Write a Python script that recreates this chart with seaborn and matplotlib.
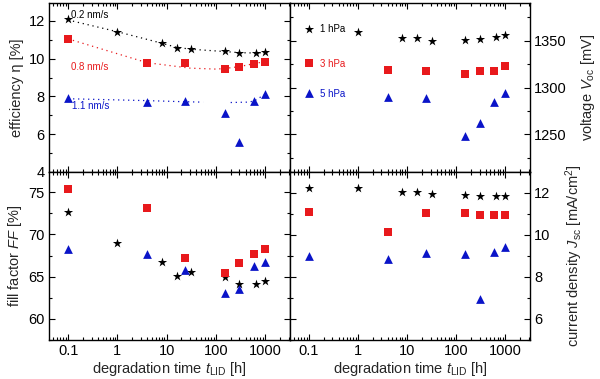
import numpy as np
import pandas as pd
import matplotlib
matplotlib.use("Agg")
import matplotlib.pyplot as plt
import seaborn as sns
from matplotlib.ticker import MultipleLocator, LogLocator, FixedLocator, NullFormatter

# ---------------- data ----------------
t_star = [0.1, 1, 8, 16, 32, 150, 300, 650, 1000]
t_sq = [0.1, 4, 24, 150, 300, 600, 1000]
t_tri = [0.1, 4, 24, 150, 300, 600, 1000]

eff_star = [12.1, 11.43, 10.82, 10.59, 10.52, 10.41, 10.29, 10.29, 10.34]
eff_sq = [11.05, 9.79, 9.79, 9.48, 9.56, 9.72, 9.83]
eff_tri = [7.92, 7.71, 7.77, 7.12, 5.61, 7.78, 8.14]

voc_star = [1362, 1359.6, 1353.2, 1353.2, 1350, 1350.7, 1351.8, 1354.3, 1355.7]
voc_sq = [1326, 1318.8, 1317.7, 1314.6, 1317.7, 1317.7, 1323]
voc_tri = [1294, 1290.4, 1288.3, 1248, 1262, 1285, 1294]

ff_star = [72.63, 68.99, 66.71, 65.12, 65.56, 64.93, 64.13, 64.1, 64.5]
ff_sq = [75.36, 73.18, 67.25, 65.47, 66.66, 67.73, 68.32]
ff_tri = [68.25, 67.69, 65.76, 63.03, 63.54, 66.27, 66.74]

jsc_star = [12.26, 12.26, 12.05, 12.05, 11.94, 11.89, 11.84, 11.86, 11.86]
jsc_sq = [11.09, 10.14, 11.05, 11.04, 10.96, 10.96, 10.96]
jsc_tri = [9.01, 8.84, 9.13, 9.08, 6.96, 9.18, 9.44]

# dotted guide lines
fit_black_t = [0.1, 1, 8, 16, 32, 150, 300, 650, 1000]
fit_black_y = [12.05, 11.43, 10.82, 10.6, 10.5, 10.38, 10.32, 10.3, 10.33]
fit_red_t = [0.1, 4, 30, 100, 150, 300, 600, 1000]
fit_red_y = [11.05, 9.79, 9.5, 9.45, 9.48, 9.58, 9.74, 9.85]
fit_blue1_t = [0.1, 4, 24, 55]
fit_blue1_y = [7.88, 7.78, 7.72, 7.7]
fit_blue2_t = [200, 450, 600, 1000]
fit_blue2_y = [7.68, 7.7, 7.76, 8.12]

rate_labels = ["0.2 nm/s", "0.8 nm/s", "1.1 nm/s"]
pressure_labels = ["1 hPa", "3 hPa", "5 hPa"]
xticks = [0.1, 1, 10, 100, 1000]
xticklabels = ["0.1", "1", "10", "100", "1000"]

BLACK = "#000000"
RED = "#e8191c"
BLUE = "#0a14c8"

sns.set_style("ticks")
plt.rcParams["font.family"] = ["Liberation Sans", "DejaVu Sans"]
plt.rcParams["mathtext.fontset"] = "custom"
plt.rcParams["mathtext.rm"] = "Liberation Sans"
plt.rcParams["mathtext.it"] = "Liberation Sans:italic"

fig = plt.figure(figsize=(6.0, 3.79), dpi=100)
W, H = 600, 379


def ax_at(x0, y0, x1, y1):
    return fig.add_axes([x0 / W, 1 - y1 / H, (x1 - x0) / W, (y1 - y0) / H])


ax_eff = ax_at(49, 3, 290, 172)
ax_voc = ax_at(290, 3, 530, 172)
ax_ff = ax_at(49, 172, 290, 340)
ax_jsc = ax_at(290, 172, 530, 340)

series = [
    ("*", BLACK, 7.0),
    ("s", RED, 5.3),
    ("^", BLUE, 6.3),
]


def draw(ax, ys):
    ts = [t_star, t_sq, t_tri]
    for (m, c, ms), t, y in zip(series, ts, ys):
        df = pd.DataFrame({"t": t, "v": y})
        sns.scatterplot(data=df, x="t", y="v", ax=ax, marker=m, color=c,
                        s=ms ** 2, linewidth=0, zorder=5, legend=False)


# dotted lines
for t, y, c in [(fit_black_t, fit_black_y, BLACK), (fit_red_t, fit_red_y, RED),
                (fit_blue1_t, fit_blue1_y, BLUE), (fit_blue2_t, fit_blue2_y, BLUE)]:
    df = pd.DataFrame({"t": t, "v": y})
    sns.lineplot(data=df, x="t", y="v", ax=ax_eff, color=c, linestyle=(0, (1, 3)),
                 linewidth=0.9, zorder=3, legend=False)

draw(ax_eff, [eff_star, eff_sq, eff_tri])
draw(ax_voc, [voc_star, voc_sq, voc_tri])
draw(ax_ff, [ff_star, ff_sq, ff_tri])
draw(ax_jsc, [jsc_star, jsc_sq, jsc_tri])

lims = {
    ax_eff: (4, 12.95, 2, 1),
    ax_voc: (1210, 1390, 50, 25),
    ax_ff: (57.5, 77.4, 5, 2.5),
    ax_jsc: (5.0, 13.0, 2, 1),
}
for ax, (lo, hi, maj, mnr) in lims.items():
    ax.set_xscale("log")
    ax.set_xlim(0.041, 3200)
    ax.set_ylim(lo, hi)
    ax.yaxis.set_major_locator(MultipleLocator(maj))
    ax.yaxis.set_minor_locator(MultipleLocator(mnr))
    ax.xaxis.set_major_locator(FixedLocator(xticks))
    ax.xaxis.set_minor_locator(LogLocator(base=10, subs=np.arange(2, 10), numticks=20))
    ax.tick_params(which="both", direction="in", top=True, bottom=True, left=True, right=True,
                   labelsize=10.5, colors="black", width=0.8, pad=3)
    ax.tick_params(which="major", length=4)
    ax.tick_params(which="minor", length=2)
    ax.set_xlabel("")
    ax.set_ylabel("")
    for s in ax.spines.values():
        s.set_linewidth(1.0)
        s.set_color("black")
    ax.set_facecolor("white")

for ax in (ax_eff, ax_voc):
    ax.tick_params(labelbottom=False)
for ax in (ax_ff, ax_jsc):
    ax.set_xticks(xticks)
    ax.set_xticklabels(xticklabels)
    ax.xaxis.set_minor_formatter(NullFormatter())
    ax.set_xlabel("degradation time $\\mathit{t}_{\\rm LID}$ [h]", fontsize=10.5, labelpad=1)
for ax in (ax_voc, ax_jsc):
    ax.tick_params(labelleft=False, labelright=True)
    ax.yaxis.set_label_position("right")

ax_eff.set_ylabel("efficiency η [%]", fontsize=10.5, labelpad=3)
ax_ff.set_ylabel("fill factor $\\mathit{FF}$ [%]", fontsize=10.5, labelpad=3)
ax_voc.set_ylabel("voltage $V_{\\rm oc}$ [mV]", fontsize=10.5, labelpad=9)
ax_jsc.set_ylabel("current density $\\mathit{J}_{\\rm sc}$ [mA/cm$^2$]", fontsize=10.5, labelpad=9)

# annotations
for txt, c, (x, y) in zip(rate_labels, [BLACK, RED, BLUE], [(0.117, 12.32), (0.117, 9.55), (0.12, 7.52)]):
    ax_eff.text(x, y, txt, color=c, fontsize=7, va="center", ha="left", zorder=6)
for txt, c, (x, y) in zip(pressure_labels, [BLACK, RED, BLUE], [(0.165, 1362), (0.165, 1325), (0.165, 1293)]):
    ax_voc.text(x, y, txt, color=c, fontsize=7, va="center", ha="left", zorder=6)

fig.savefig("out.png", dpi=100)
